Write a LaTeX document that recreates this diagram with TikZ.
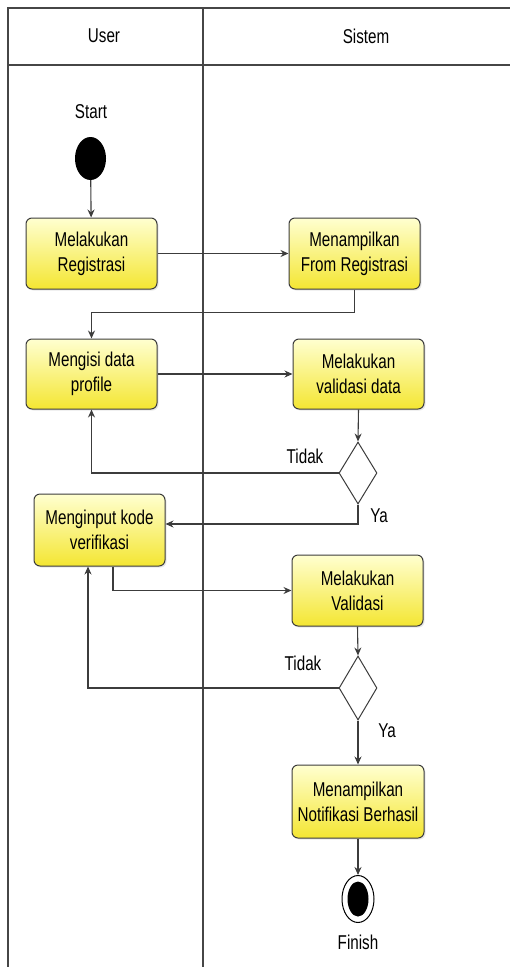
\documentclass[tikz,border=0pt]{standalone}
\usepackage{fontspec}
\setmainfont{Liberation Sans}[FakeStretch=0.76]
\usetikzlibrary{arrows.meta,shapes.geometric,shadows}
\definecolor{boxtop}{RGB}{255,255,208}
\definecolor{boxbot}{RGB}{244,230,50}
\definecolor{edge}{RGB}{60,60,60}
\definecolor{lane}{RGB}{70,70,70}
\begin{document}
\begin{tikzpicture}[x=1pt,y=-1pt,
  txt/.style={font=\fontsize{20}{25}\selectfont, text=black, inner sep=0pt},
  act/.style={draw=edge, line width=1pt, rounded corners=6pt, top color=boxtop, bottom color=boxbot,
    minimum width=131pt, align=center, font=\fontsize{20}{25}\selectfont, inner sep=0pt,
    drop shadow={opacity=0.18, shadow xshift=1.5pt, shadow yshift=-1.5pt}},
  dec/.style={diamond, draw=edge, line width=1pt, fill=white, inner sep=0pt, minimum width=38pt, minimum height=62pt},
  conn/.style={draw=edge, line width=1.1pt, -{Stealth[length=8pt,width=7pt]}},
  plain/.style={draw=edge, line width=1.1pt}]
\useasboundingbox (0,0) rectangle (510,967);
% swimlanes
\draw[lane, line width=1.2pt] (8,967) -- (8,8) -- (512,8);
\draw[lane, line width=1.2pt] (8,65) -- (512,65);
\draw[lane, line width=1.2pt] (203,8) -- (203,967);
\node[txt] (hu) at (104,36) {User};
\node[txt] (hs) at (366,36) {Sistem};
% start
\node[txt] (lstart) at (91,112) {Start};
\node[ellipse, fill=black, minimum width=31pt, minimum height=43pt, inner sep=0pt] (start) at (90.5,158.5) {};
% activities
\node[act, minimum height=71pt] (b1) at (91.5,253.5) {Melakukan\\Registrasi};
\node[act, minimum height=71pt] (b2) at (354.5,253.5) {Menampilkan\\From Registrasi};
\node[act, minimum height=70pt] (b3) at (91.5,374) {Mengisi data\\profile};
\node[act, minimum height=70pt] (b4) at (358.5,374) {Melakukan\\validasi data};
\node[dec] (d1) at (358,473) {};
\node[act, minimum height=72pt] (b5) at (99.5,530) {Menginput kode\\verifikasi};
\node[act, minimum height=71pt] (b6) at (357.5,590.5) {Melakukan\\Validasi};
\node[dec, minimum height=64pt] (d2) at (358,688) {};
\node[act, minimum height=73pt, minimum width=132pt] (b7) at (358,801.5) {Menampilkan\\Notifikasi Berhasil};
% end
\node[ellipse, draw=black, line width=1pt, fill=white, minimum width=32pt, minimum height=47pt, inner sep=0pt] (fin) at (358,899) {};
\node[ellipse, fill=black, minimum width=21pt, minimum height=35pt, inner sep=0pt] (finin) at (358,899) {};
\node[txt] (lfin) at (358,942) {Finish};
% labels
\node[txt] (t1) at (305,456) {Tidak};
\node[txt] (y1) at (379,516) {Ya};
\node[txt] (t2) at (303,663) {Tidak};
\node[txt] (y2) at (387,731) {Ya};
% connectors
\path[conn] (start) -- (b1);
\path[conn] (b1.east) -- (b2.west);
\path[conn] (b2.south) -- ++(0,23) -| (b3.north);
\path[conn] (b3.east) -- (b4.west);
\path[conn] (b4.south) -- (d1.north);
\path[conn] (d1.west) -| (b3.south);
\path[conn] (d1.south) |- ([yshift=6pt]b5.east);
\path[conn] ([xshift=13.5pt]b5.south) |- (b6.west);
\path[conn] (b6.south) -- (d2.north);
\path[conn] (d2.west) -| ([xshift=-11.5pt]b5.south);
\path[conn] (d2.south) -- (b7.north);
\path[conn] (b7.south) -- (fin.north);
\end{tikzpicture}
\end{document}
